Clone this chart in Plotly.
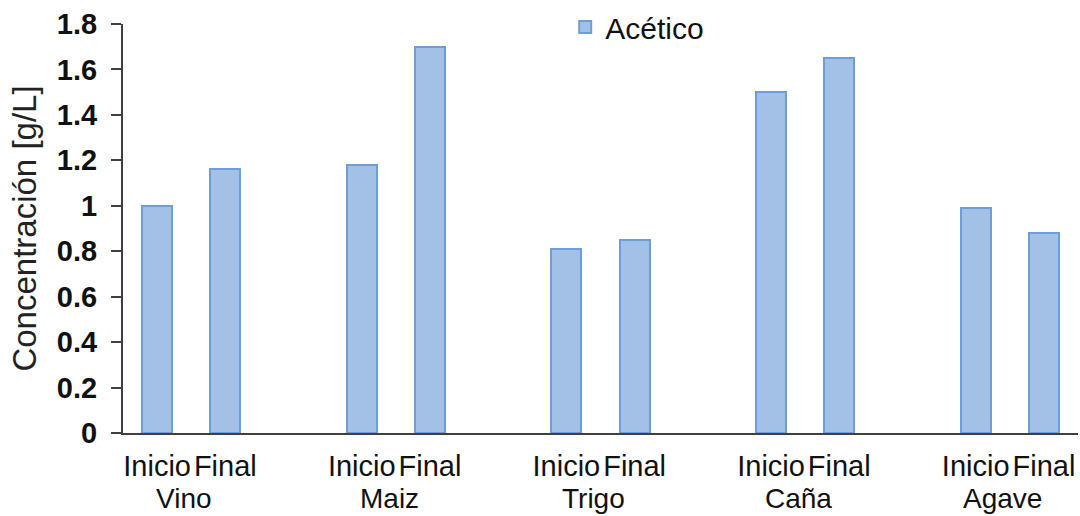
import plotly.graph_objects as go

groups = ["Vino", "Maiz", "Trigo", "Caña", "Agave"]
stages = ["Inicio", "Final"]
acetico = [1.00, 1.16, 1.18, 1.70, 0.81, 0.85, 1.50, 1.65, 0.99, 0.88]
y_ticks = [0, 0.2, 0.4, 0.6, 0.8, 1, 1.2, 1.4, 1.6, 1.8]

slots_per_group = 3  # Inicio, Final, empty gap
x_pos, x_text = [], []
for gi, g in enumerate(groups):
    for si, s in enumerate(stages):
        x_pos.append(gi * slots_per_group + si)
        x_text.append(s)

FONT = "Liberation Sans, Arial, sans-serif"

fig = go.Figure()
fig.add_trace(go.Bar(
    x=x_pos, y=acetico, name="Acético", width=0.44,
    marker=dict(color="#A3C1E7", line=dict(color="#6C9ED8", width=2)),
))

annotations = []
for gi, g in enumerate(groups):
    mid = gi * slots_per_group + 0.5 - 0.1
    annotations.append(dict(
        x=mid, y=0, xref="x", yref="paper", text=g, showarrow=False,
        yanchor="top", yshift=-48, font=dict(family=FONT, size=28, color="#111111"),
    ))

fig.update_layout(
    width=1080, height=516,
    margin=dict(l=123, r=2, t=24, b=83, autoexpand=False),
    paper_bgcolor="white", plot_bgcolor="white",
    showlegend=True,
    legend=dict(orientation="h", x=0.59, y=1 - 27 / 516, xref="container", yref="container",
                xanchor="center", yanchor="middle",
                font=dict(family=FONT, size=30, color="#111111"),
                bgcolor="rgba(0,0,0,0)", itemwidth=30),
    annotations=annotations,
    bargap=0,
)
fig.update_xaxes(
    range=[-0.5, 13.5], tickvals=x_pos, ticktext=x_text, ticks="",
    showline=True, linecolor="#404040", linewidth=2, showgrid=False, zeroline=False,
    tickfont=dict(family=FONT, size=29, color="#111111"), ticklabelstandoff=6,
)
fig.update_yaxes(
    range=[0, 1.8], tickvals=y_ticks, ticks="outside", ticklen=10, tickwidth=2,
    tickcolor="#404040", showline=True, linecolor="#404040", linewidth=2,
    showgrid=False, zeroline=False, ticklabelstandoff=8,
    tickfont=dict(family=FONT, size=29, color="#111111", weight="bold"),
    title=dict(text="Concentración [g/L]", font=dict(family=FONT, size=33, color="#222222"), standoff=10),
)

fig.write_html("out.html")
